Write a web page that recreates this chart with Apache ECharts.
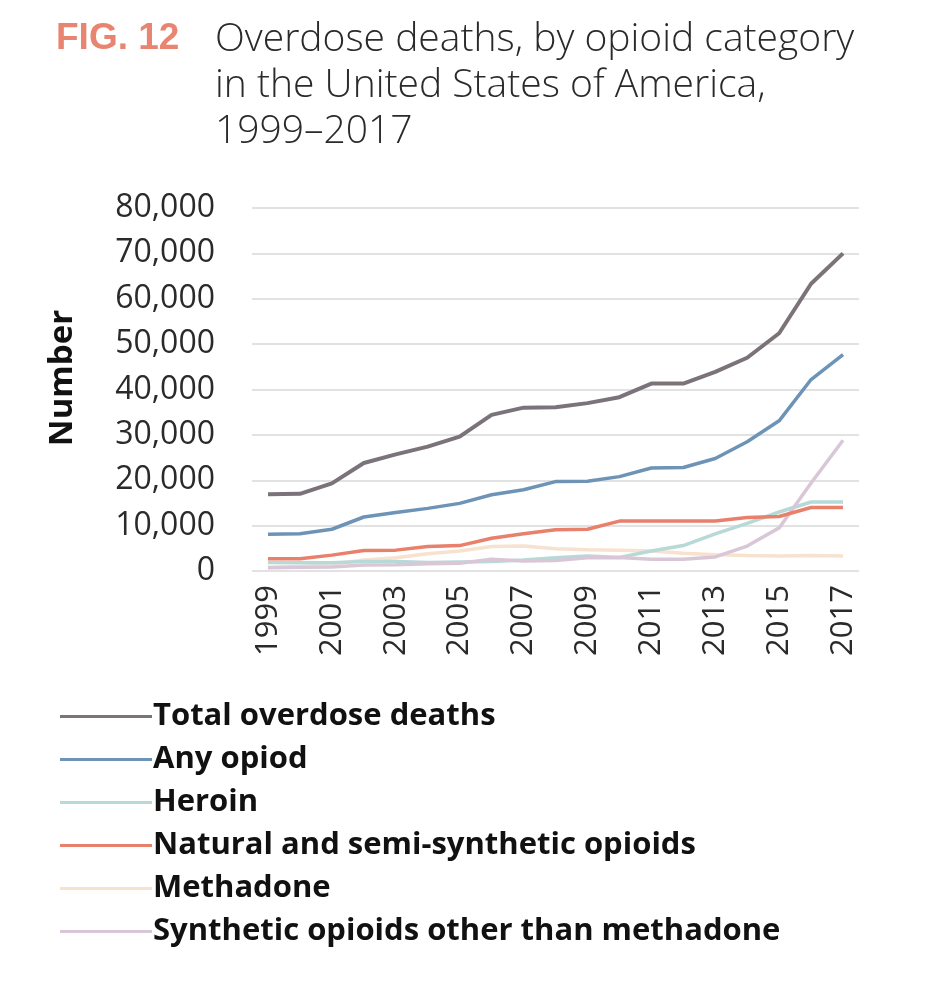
<!DOCTYPE html>
<html><head><meta charset="utf-8">
<script src="https://cdn.jsdelivr.net/npm/echarts@6/dist/echarts.min.js"></script>
<style>html,body{margin:0;padding:0;background:#fff}#c{width:932px;height:992px}</style>
</head><body><div id="c"></div>
<script>
const years = ['1999','2000','2001','2002','2003','2004','2005','2006','2007','2008','2009','2010','2011','2012','2013','2014','2015','2016','2017'];
const totalDeaths = [16900,17000,19300,23800,25700,27400,29600,34400,36000,36100,37000,38300,41300,41300,43900,47000,52400,63300,70000];
const anyOpioid = [8100,8200,9200,11900,12900,13800,14900,16800,17900,19700,19800,20800,22700,22800,24800,28500,33100,42200,47700];
const heroin = [1900,1800,1800,2100,2100,1900,2000,2100,2400,2900,3300,3000,4400,5600,8200,10500,13000,15200,15200];
const natural = [2700,2700,3500,4500,4600,5400,5600,7200,8200,9100,9200,11000,11000,11000,11000,11800,12000,14000,14000];
const methadone = [800,1000,1500,2400,2900,3800,4400,5400,5500,4900,4700,4600,4400,3900,3600,3400,3300,3400,3300];
const synthetic = [700,800,900,1300,1400,1600,1700,2600,2200,2300,2900,3000,2600,2600,3100,5500,9500,19400,28800];
const yTicks = [0,10000,20000,30000,40000,50000,60000,70000,80000];
const seriesNames = ['Total overdose deaths','Any opiod','Heroin','Natural and semi-synthetic opioids','Methadone','Synthetic opioids other than methadone'];

const colors = ['#7b7379','#6d93b6','#b7d9d7','#e8806b','#f6e2cf','#d9c7d8'];
const datas = [totalDeaths, anyOpioid, heroin, natural, methadone, synthetic];
const zOrder = [6,5,2,4,1,3];

const chart = echarts.init(document.getElementById('c'));
chart.setOption({
  animation:false,
  backgroundColor:'#fff',
  title:[
    {text:'FIG. 12', left:51, top:15, textStyle:{fontFamily:'Liberation Sans', fontWeight:'bold', fontSize:37, color:'#e8846f'}},
    {text:'Overdose deaths, by opioid category\nin the United States of America,\n1999–2017', left:210, top:12,
     textStyle:{fontFamily:'Open Sans', fontWeight:300, fontSize:39, lineHeight:46, color:'#2a2a2a'}}
  ],
  graphic:[{type:'text', x:63, y:378, rotation:Math.PI/2,
    style:{text:'Number', fontFamily:'Open Sans', fontWeight:'bold', fontSize:33, fill:'#111', align:'center', verticalAlign:'middle'}}],
  grid:{left:252, right:73, top:208, bottom:421, containLabel:false},
  legend:{
    orient:'vertical', left:55, top:690, icon:'rect', itemWidth:92, itemHeight:3, itemGap:0,
    data:seriesNames,
    textStyle:{fontFamily:'Open Sans', fontWeight:'bold', fontSize:31, color:'#111', lineHeight:43, padding:[0,0,0,-4]}
  },
  xAxis:{
    type:'category', data:years, boundaryGap:true,
    axisLine:{show:false}, axisTick:{show:false},
    axisLabel:{rotate:90, interval:1, fontFamily:'Open Sans', fontSize:31, color:'#2a2a2a', margin:14}
  },
  yAxis:{
    type:'value', min:0, max:80000, interval:10000,
    axisLine:{show:false}, axisTick:{show:false},
    axisLabel:{fontFamily:'Open Sans', fontSize:32, color:'#2a2a2a', margin:37,
      formatter:v=>yTicks.includes(v)?v.toLocaleString('en-US'):''},
    splitLine:{lineStyle:{color:'#e2e2e2', width:2}}
  },
  series: seriesNames.map((n,i)=>({
    name:n, type:'line', data:datas[i], symbol:'none', z:zOrder[i],
    lineStyle:{color:colors[i], width:i===0?4:3.5}, itemStyle:{color:colors[i]}
  }))
});
</script></body></html>
